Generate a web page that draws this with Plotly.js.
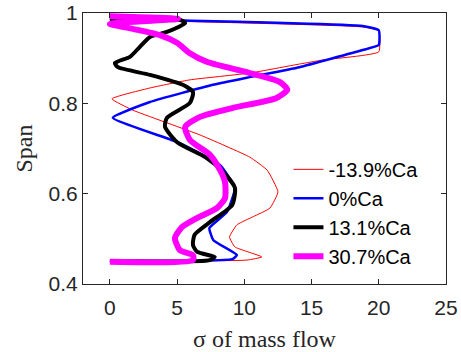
<!DOCTYPE html>
<html>
<head>
<meta charset="utf-8">
<script src="https://cdn.plot.ly/plotly-3.0.1.min.js"></script>
<style>html,body{margin:0;padding:0;background:#fff;}#chart{width:461px;height:352px;}</style>
</head>
<body>
<div id="chart"></div>
<script>
// Series names
const seriesNames = ["-13.9%Ca", "0%Ca", "13.1%Ca", "30.7%Ca"];

// -13.9%Ca (red)
const redX = [0, 18.8, 20.0, 20.0, 15.85, 14.1, 10.4, 5.95, 2.98, 0.15, 1.7, 6.7, 10.4, 11.7, 12.5, 11.9, 9.45, 8.9, 9.3, 11.3, 10.2, 0];
const redY = [0.985, 0.969, 0.960, 0.914, 0.896, 0.887, 0.867, 0.852, 0.834, 0.810, 0.785, 0.730, 0.681, 0.652, 0.604, 0.568, 0.531, 0.504, 0.482, 0.460, 0.453, 0.451];

// 0%Ca (blue)
const blueX = [0, 18.8, 20.0, 20.0, 18.8, 14.1, 10.4, 7.66, 2.98, 0.22, 5.2, 8.2, 9.3, 8.7, 7.4, 7.7, 9.45, 9.1, 0];
const blueY = [0.987, 0.971, 0.962, 0.929, 0.918, 0.880, 0.858, 0.841, 0.803, 0.768, 0.712, 0.663, 0.613, 0.559, 0.524, 0.497, 0.464, 0.455, 0.451];

// 13.1%Ca (black)
const blackX = [0, 5.2, 5.6, 4.24, 2.98, 2.23, 1.49, 0.37, 0.6, 2.98, 5.43, 6.18, 5.95, 4.24, 4.1, 5.0, 7.2, 8.3, 9.3, 9.1, 7.44, 6.3, 6.18, 6.5, 7.8, 7.44, 0];
const blackY = [0.985, 0.985, 0.978, 0.958, 0.947, 0.925, 0.903, 0.889, 0.880, 0.863, 0.841, 0.825, 0.801, 0.768, 0.748, 0.714, 0.679, 0.652, 0.613, 0.575, 0.537, 0.509, 0.486, 0.471, 0.460, 0.453, 0.451];

// 30.7%Ca (magenta)
const magX = [0, 5.06, 0, 1.71, 3.72, 4.99, 5.95, 7.2, 10.4, 12.65, 13.2, 12.4, 9.15, 6.7, 5.6, 5.95, 7.44, 8.2, 8.56, 8.56, 7.96, 6.47, 5.36, 4.84, 5.2, 6.18, 6.18, 0];
const magY = [0.993, 0.987, 0.976, 0.965, 0.951, 0.934, 0.911, 0.892, 0.867, 0.847, 0.830, 0.812, 0.790, 0.770, 0.748, 0.719, 0.686, 0.652, 0.626, 0.590, 0.568, 0.546, 0.526, 0.502, 0.475, 0.464, 0.453, 0.449];

// Tick labels
const xTicks = [0, 5, 10, 15, 20, 25];
const yTicks = [0.4, 0.6, 0.8, 1];
const yTickText = ["0.4", "0.6", "0.8", "1"];

const traces = [
  {x: redX, y: redY, name: seriesNames[0], mode: "lines", line: {color: "#ff0000", width: 1, shape: "spline", smoothing: 0.4}},
  {x: blueX, y: blueY, name: seriesNames[1], mode: "lines", line: {color: "#0000ff", width: 2.5, shape: "spline", smoothing: 0.4}},
  {x: blackX, y: blackY, name: seriesNames[2], mode: "lines", line: {color: "#000000", width: 4, shape: "spline", smoothing: 0.6}},
  {x: magX, y: magY, name: seriesNames[3], mode: "lines", line: {color: "#ff00ff", width: 6, shape: "spline", smoothing: 0.6}}
];

const axisCommon = {
  showgrid: false, zeroline: false, showline: true, linecolor: "#262626", linewidth: 1,
  mirror: "allticks", ticks: "inside", ticklen: 5, tickcolor: "#262626",
  tickfont: {family: "Liberation Sans, Arial, sans-serif", size: 21, color: "#262626"}
};

const layout = {
  width: 461, height: 352,
  margin: {l: 83, r: 15, t: 13, b: 68},
  paper_bgcolor: "#fff", plot_bgcolor: "#fff",
  showlegend: true,
  legend: {x: 0.566, y: 0.495, xanchor: "left", yanchor: "top", bgcolor: "rgba(0,0,0,0)",
    font: {family: "Liberation Sans, Arial, sans-serif", size: 20, color: "#000"}, tracegroupgap: 0, itemwidth: 30},
  xaxis: Object.assign({}, axisCommon, {range: [-2, 25], tickvals: xTicks, automargin: false, ticklabelstandoff: 5,
    title: {text: "σ of mass flow", font: {family: "Liberation Serif, Times New Roman, serif", size: 24, color: "#262626"}, standoff: 14}}),
  yaxis: Object.assign({}, axisCommon, {range: [0.4, 1], tickvals: yTicks, ticktext: yTickText, automargin: false,
    title: {text: "Span", font: {family: "Liberation Serif, Times New Roman, serif", size: 24, color: "#262626"}, standoff: 9}})
};

Plotly.newPlot("chart", traces, layout, {displayModeBar: false, staticPlot: true});
</script>
</body>
</html>
